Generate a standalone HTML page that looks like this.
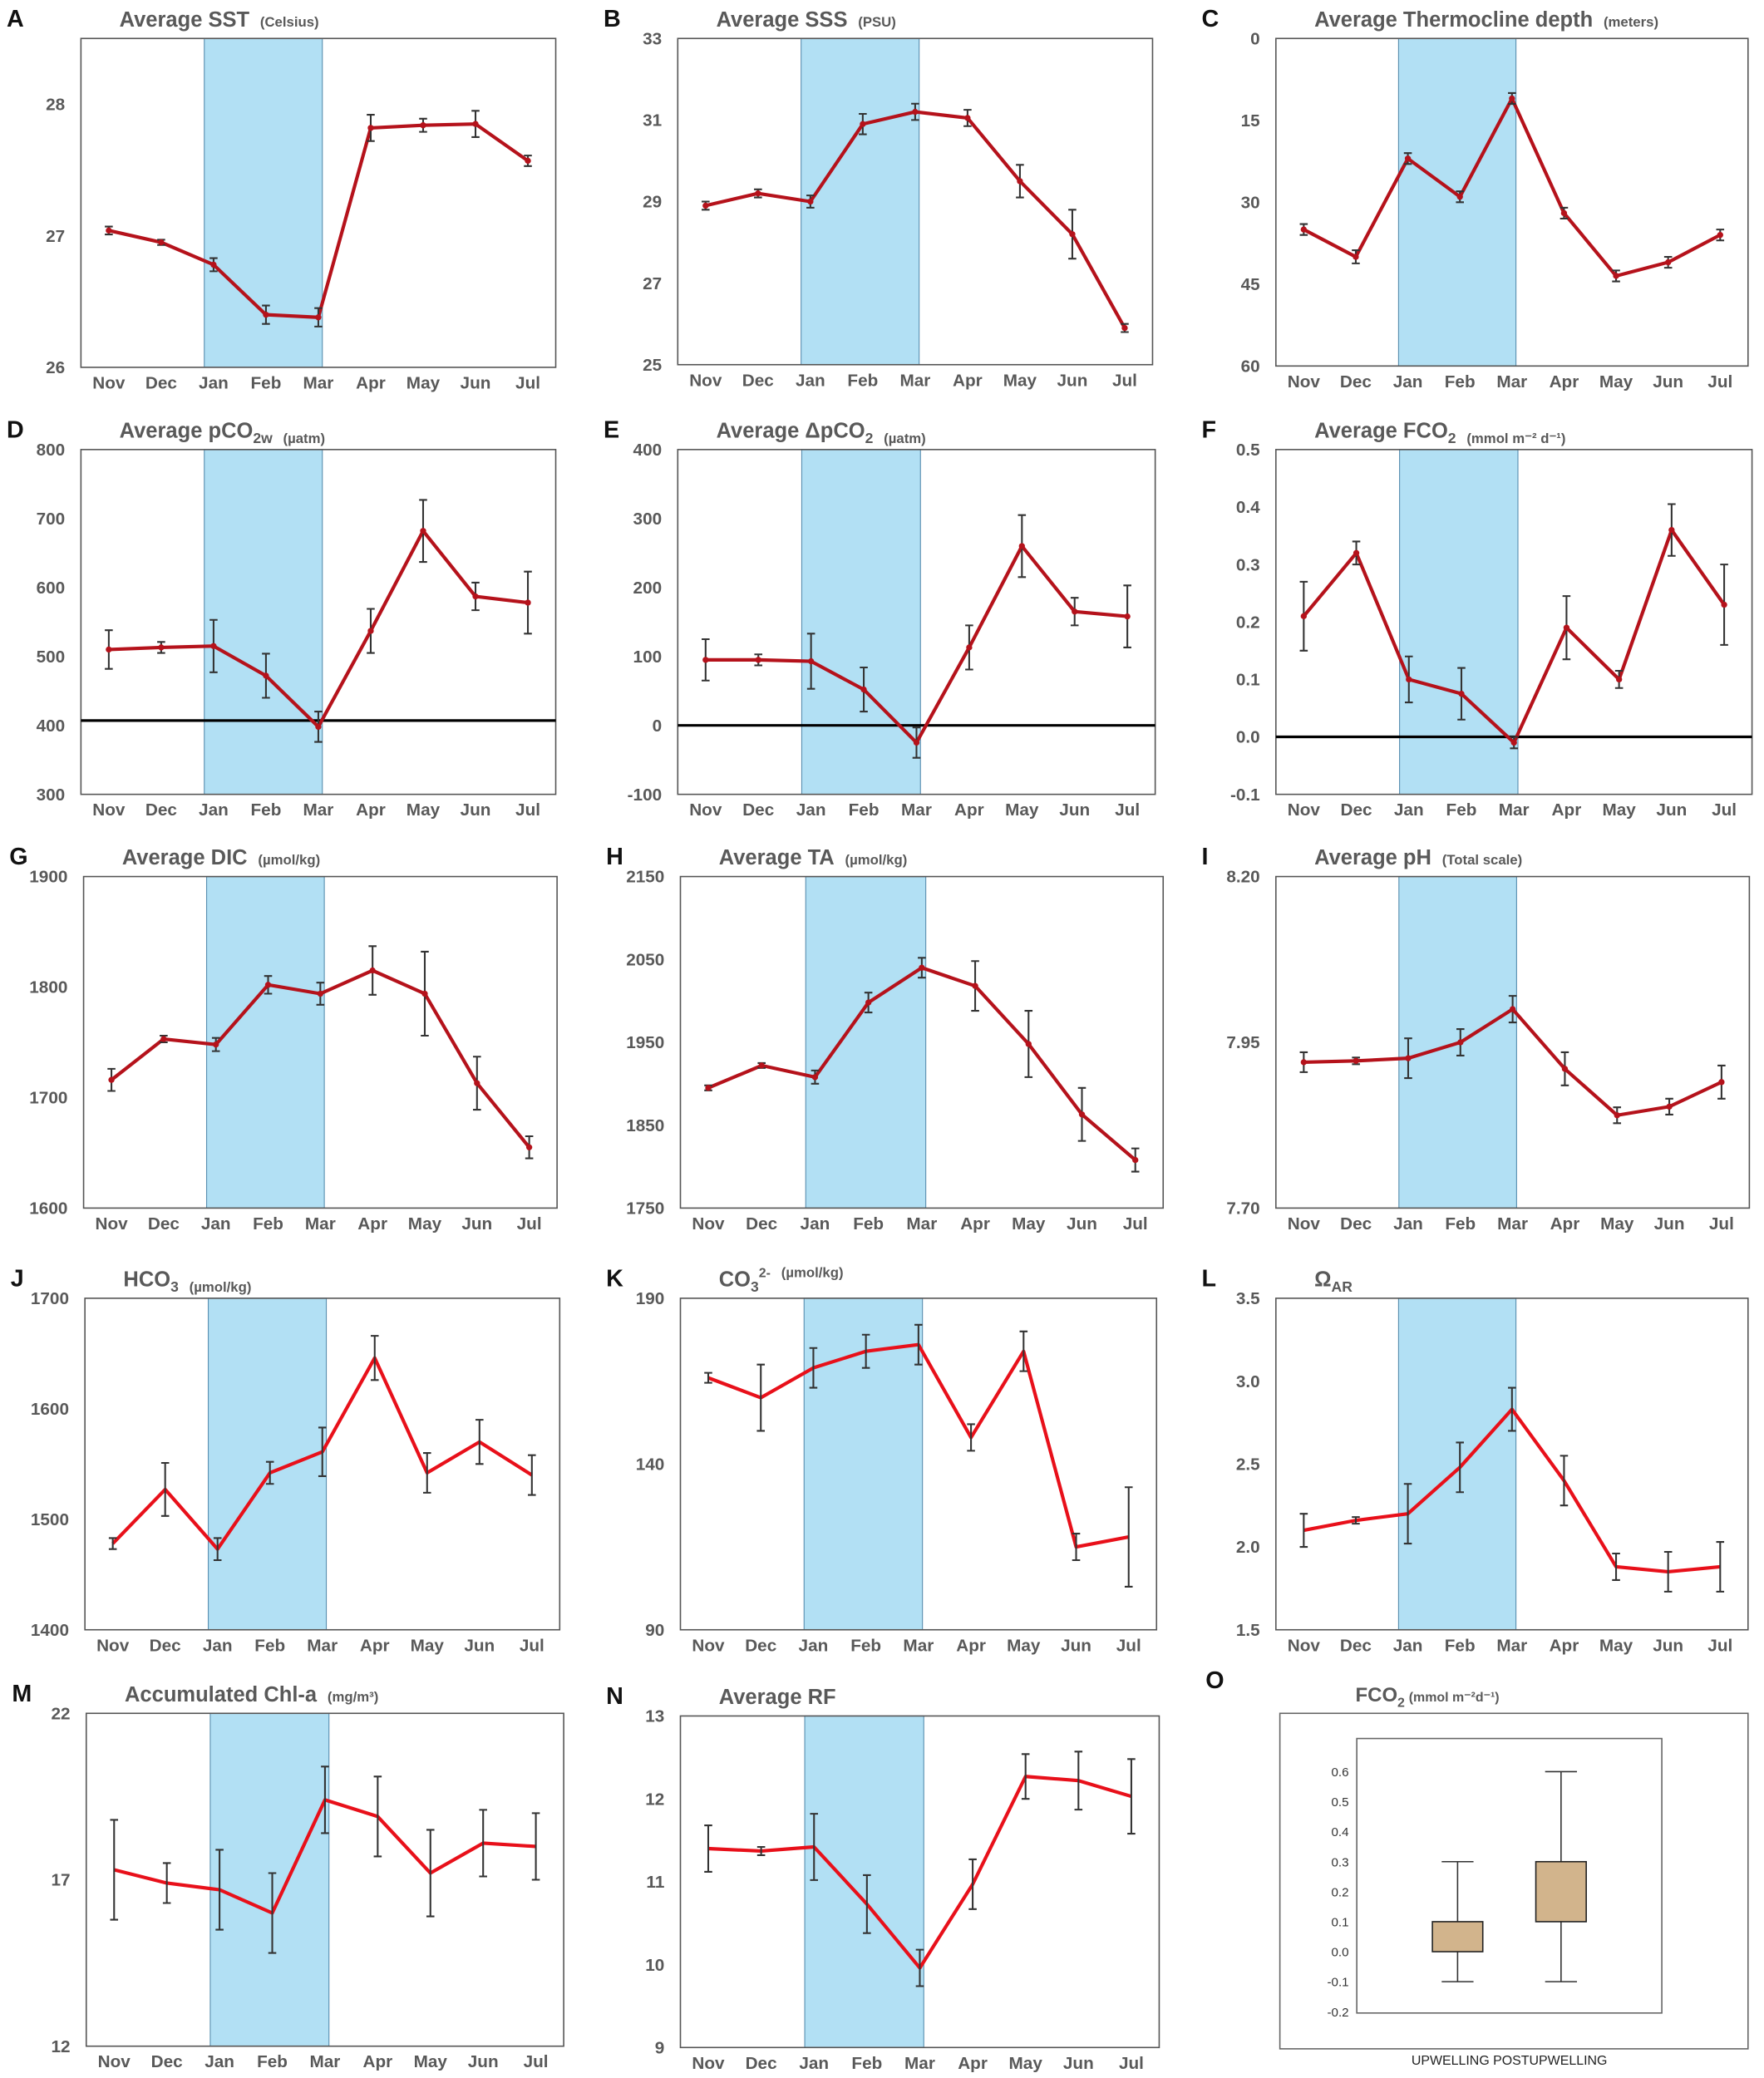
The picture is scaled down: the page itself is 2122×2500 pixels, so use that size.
<!DOCTYPE html>
<html><head><meta charset="utf-8"><style>
html,body{margin:0;padding:0;background:#fff}
svg{display:block;font-family:"Liberation Sans",Arial,sans-serif}
</style></head><body>
<svg id="fig" width="2122" height="2500" viewBox="0 0 1330 1567" xmlns="http://www.w3.org/2000/svg"></svg>
<script>
const months=["Nov","Dec","Jan","Feb","Mar","Apr","May","Jun","Jul"];
const sstValues=[27.04,26.95,26.78,26.4,26.38,27.82,27.84,27.85,27.57];
const sstErrors=[0.03,0.02,0.05,0.07,0.07,0.1,0.05,0.1,0.04];
const sssValues=[28.9,29.2,29.0,30.9,31.2,31.05,29.5,28.2,25.9];
const sssErrors=[0.1,0.1,0.15,0.25,0.2,0.2,0.4,0.6,0.1];
const thermoValues=[35,40,22,29,11,32,43.5,41,36];
const thermoErrors=[1,1.2,1,1,1,1,1,1,1];
const pco2Values=[510,513,515,472,398,537,682,587,578];
const pco2Errors=[28,8,38,32,22,32,45,20,45];
const dpco2Values=[95,95,93,52,-25,113,260,165,158];
const dpco2Errors=[30,8,40,32,22,32,45,20,45];
const fco2Values=[0.21,0.32,0.10,0.075,-0.01,0.19,0.10,0.36,0.23];
const fco2Errors=[0.06,0.02,0.04,0.045,0.01,0.055,0.015,0.045,0.07];
const dicValues=[1716,1753,1748,1802,1794,1815,1794,1713,1655];
const dicErrors=[10,3,6,8,10,22,38,24,10];
const taValues=[1895,1922,1908,1998,2040,2018,1948,1863,1808];
const taErrors=[3,3,8,12,12,30,40,32,14];
const phValues=[7.92,7.922,7.926,7.95,8.00,7.91,7.84,7.853,7.89];
const phErrors=[0.015,0.005,0.03,0.02,0.02,0.025,0.012,0.012,0.025];
const hco3Values=[1478,1527,1473,1542,1561,1646,1542,1570,1540];
const hco3Errors=[5,24,10,10,22,20,18,20,18];
const co3Values=[166,160,169,174,176,148,174,115,118];
const co3Errors=[1.5,10,6,5,6,4,6,4,15];
const omegaValues=[2.1,2.16,2.2,2.48,2.83,2.4,1.88,1.85,1.88];
const omegaErrors=[0.1,0.02,0.18,0.15,0.13,0.15,0.08,0.12,0.15];
const chlValues=[17.3,16.9,16.7,16.0,19.4,18.9,17.2,18.1,18.0];
const chlErrors=[1.5,0.6,1.2,1.2,1.0,1.2,1.3,1.0,1.0];
const rfValues=[11.4,11.37,11.42,10.73,9.96,10.97,12.27,12.22,12.03];
const rfErrors=[0.28,0.05,0.4,0.35,0.22,0.3,0.27,0.35,0.45];
const boxCategories=["UPWELLING","POSTUPWELLING"];
const boxMin=[-0.1,-0.1];
const boxQ1=[0,0.1];
const boxQ3=[0.1,0.3];
const boxMax=[0.3,0.6];
const boxTicks=[-0.2,-0.1,0.0,0.1,0.2,0.3,0.4,0.5,0.6];

const svg=document.getElementById('fig');
const NS="http://www.w3.org/2000/svg";
function el(tag,attrs,parent,text){const e=document.createElementNS(NS,tag);for(const k in attrs)e.setAttribute(k,attrs[k]);if(text!==undefined)e.textContent=text;(parent||svg).appendChild(e);return e;}

const DR="#b5121b",BR="#e8101a";
const panels=[
 {id:"a",L:"A",x0:61,y0:29,x1:419,y1:277,min:26,max:28.5,ticks:[26,27,28],fmt:0,vals:sstValues,errs:sstErrors,col:DR,title:"Average SST",unit:"(Celsius)"},
 {id:"b",L:"B",x0:511,y0:29,x1:869,y1:275,min:25,max:33,ticks:[25,27,29,31,33],fmt:0,vals:sssValues,errs:sssErrors,col:DR,title:"Average SSS",unit:"(PSU)"},
 {id:"c",L:"C",x0:962,y0:29,x1:1318,y1:276,min:60,max:0,ticks:[0,15,30,45,60],fmt:0,vals:thermoValues,errs:thermoErrors,col:DR,title:"Average Thermocline depth",unit:"(meters)"},
 {id:"d",L:"D",x0:61,y0:339,x1:419,y1:599,min:300,max:800,ticks:[300,400,500,600,700,800],fmt:0,vals:pco2Values,errs:pco2Errors,col:DR,title:"Average pCO",sub:"2w",unit:"(µatm)",hline:407},
 {id:"e",L:"E",x0:511,y0:339,x1:871,y1:599,min:-100,max:400,ticks:[-100,0,100,200,300,400],fmt:0,vals:dpco2Values,errs:dpco2Errors,col:DR,title:"Average ΔpCO",sub:"2",unit:"(µatm)",hline:0},
 {id:"f",L:"F",x0:962,y0:339,x1:1321,y1:599,min:-0.1,max:0.5,ticks:[-0.1,0,0.1,0.2,0.3,0.4,0.5],fmt:1,vals:fco2Values,errs:fco2Errors,col:DR,title:"Average FCO",sub:"2",unit:"(mmol m⁻² d⁻¹)",hline:0},
 {id:"g",L:"G",x0:63,y0:661,x1:420,y1:911,min:1600,max:1900,ticks:[1600,1700,1800,1900],fmt:0,vals:dicValues,errs:dicErrors,col:DR,title:"Average DIC",unit:"(µmol/kg)"},
 {id:"h",L:"H",x0:513,y0:661,x1:877,y1:911,min:1750,max:2150,ticks:[1750,1850,1950,2050,2150],fmt:0,vals:taValues,errs:taErrors,col:DR,title:"Average TA",unit:"(µmol/kg)"},
 {id:"i",L:"I",x0:962,y0:661,x1:1319,y1:911,min:7.7,max:8.2,ticks:[7.7,7.95,8.2],fmt:2,vals:phValues,errs:phErrors,col:DR,title:"Average pH",unit:"(Total scale)"},
 {id:"j",L:"J",x0:64,y0:979,x1:422,y1:1229,min:1400,max:1700,ticks:[1400,1500,1600,1700],fmt:0,vals:hco3Values,errs:hco3Errors,col:BR,title:"HCO",sub:"3",unit:"(µmol/kg)"},
 {id:"k",L:"K",x0:513,y0:979,x1:872,y1:1229,min:90,max:190,ticks:[90,140,190],fmt:0,vals:co3Values,errs:co3Errors,col:BR,title:"CO",sub:"3",sup:"2-",unit:"(µmol/kg)"},
 {id:"l",L:"L",x0:962,y0:979,x1:1318,y1:1229,min:1.5,max:3.5,ticks:[1.5,2,2.5,3,3.5],fmt:1,vals:omegaValues,errs:omegaErrors,col:BR,title:"Ω",sub:"AR",unit:""},
 {id:"m",L:"M",x0:65,y0:1292,x1:425,y1:1543,min:12,max:22,ticks:[12,17,22],fmt:0,vals:chlValues,errs:chlErrors,col:BR,title:"Accumulated Chl-a",unit:"(mg/m³)"},
 {id:"n",L:"N",x0:513,y0:1294,x1:874,y1:1544,min:9,max:13,ticks:[9,10,11,12,13],fmt:0,vals:rfValues,errs:rfErrors,col:BR,title:"Average RF",unit:""}
];

panels.forEach(p=>{
  const g=el('g',{});
  
  
  const w=p.x1-p.x0;
  const xs=i=>p.x0+21+i*(w-42)/8;
  const ys=v=>p.y1-(v-p.min)/(p.max-p.min)*(p.y1-p.y0);
  const sh=el('rect',{x:xs(2)-7,y:p.y0,width:xs(4)+3-(xs(2)-7),height:p.y1-p.y0,fill:"#b2e0f4",stroke:"#5a8fb0","stroke-width":0.7},g);
  
  
  const fr=el('rect',{x:p.x0,y:p.y0,width:w,height:p.y1-p.y0,fill:"none",stroke:"#555","stroke-width":1},g);
  
  
  if(p.hline!==undefined){
    const hl=el('line',{x1:p.x0,x2:p.x1,y1:ys(p.hline),y2:ys(p.hline),stroke:"#000","stroke-width":2},g);
    
    
  }
  p.ticks.forEach(t=>{
    const tx=el('text',{x:p.x0-12,y:ys(t)+4.5,"text-anchor":"end","font-size":13,"font-weight":"bold",fill:"#595959"},g,t.toFixed(p.fmt));
    
    
  });
  months.forEach((m,i)=>{
    const tx=el('text',{x:xs(i),y:p.y1+16,"text-anchor":"middle","font-size":13,"font-weight":"bold",fill:"#595959"},g,m);
    
    
  });
  const pts=p.vals.map((v,i)=>xs(i)+","+ys(v)).join(" ");
  const ln=el('polyline',{points:pts,fill:"none",stroke:p.col,"stroke-width":2.6,"stroke-linejoin":"round"},g);
  
  
  p.vals.forEach((v,i)=>{
    const e=p.errs[i],x=xs(i);
    const eb=el('path',{d:`M${x},${ys(v-e)}V${ys(v+e)}M${x-3},${ys(v-e)}h6M${x-3},${ys(v+e)}h6`,stroke:"#333","stroke-width":1.3,fill:"none"},g);
    
    
    if(p.col===DR){
      const c=el('circle',{cx:x,cy:ys(v),r:2.3,fill:p.col},g);
      
      
    }
  });
  const lt=el('text',{x:p.x0-56,y:p.y0-9,"font-size":18,"font-weight":"bold",fill:"#111"},g,p.L);
  
  
  const tt=el('text',{x:p.x0+29,y:p.y0-9,"font-size":16,"font-weight":"bold",fill:"#595959"},g);
  
  
  el('tspan',{},tt,p.title);
  if(p.sub){el('tspan',{"font-size":11,dy:4},tt,p.sub);}
  if(p.sup){el('tspan',{"font-size":10,dy:-11},tt,p.sup);el('tspan',{dy:7},tt,"");}
  else if(p.sub){el('tspan',{dy:-4},tt,"");}
  if(p.unit){el('tspan',{"font-size":10.5,dx:8},tt,p.unit);}
});

// Panel O box plot
(function(){
  const g=el('g',{});
  
  
  const ob=el('rect',{x:965,y:1292,width:353,height:253,fill:"none",stroke:"#666","stroke-width":1},g);
  
  
  const ib=el('rect',{x:1023,y:1311,width:230,height:207,fill:"none",stroke:"#666","stroke-width":1},g);
  
  
  const ys=v=>1517-(v+0.2)/0.8*181;
  const xs=i=>1099+i*78;
  boxTicks.forEach(t=>{
    const tx=el('text',{x:1017,y:ys(t)+3.5,"text-anchor":"end","font-size":9.5,fill:"#333"},g,t.toFixed(1));
    
    
  });
  boxCategories.forEach((c,i)=>{
    const x=xs(i);
    const wk=el('path',{d:`M${x},${ys(boxMin[i])}V${ys(boxQ1[i])}M${x},${ys(boxQ3[i])}V${ys(boxMax[i])}M${x-12},${ys(boxMin[i])}h24M${x-12},${ys(boxMax[i])}h24`,stroke:"#333","stroke-width":1,fill:"none"},g);
    
    
    const b=el('rect',{x:x-19,y:ys(boxQ3[i]),width:38,height:ys(boxQ1[i])-ys(boxQ3[i]),fill:"#d2b48c",stroke:"#222","stroke-width":1},g);
    
    
  });
  const xl=el('text',{x:1138,y:1557,"text-anchor":"middle","font-size":10,fill:"#222"},g,boxCategories.join(" "));
  
  
  const lt=el('text',{x:909,y:1273,"font-size":18,"font-weight":"bold",fill:"#111"},g,"O");
  
  
  const tt=el('text',{x:1022,y:1283,"font-size":15,"font-weight":"bold",fill:"#595959"},g);
  
  
  el('tspan',{},tt,"FCO");
  el('tspan',{"font-size":10,dy:4},tt,"2");
  el('tspan',{"font-size":10,dy:-4,dx:3},tt,"(mmol m⁻²d⁻¹)");
})();
</script>
</body></html>
